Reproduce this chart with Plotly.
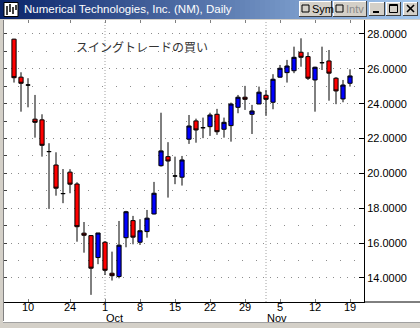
import plotly.graph_objects as go

# ---------------- data ----------------
dates = ["2001-09-06", "2001-09-07", "2001-09-10",
         "2001-09-17", "2001-09-18", "2001-09-19", "2001-09-20", "2001-09-21",
         "2001-09-24", "2001-09-25", "2001-09-26", "2001-09-27", "2001-09-28",
         "2001-10-01", "2001-10-02", "2001-10-03", "2001-10-04", "2001-10-05",
         "2001-10-08", "2001-10-09", "2001-10-10", "2001-10-11", "2001-10-12",
         "2001-10-15", "2001-10-16", "2001-10-17", "2001-10-18", "2001-10-19",
         "2001-10-22", "2001-10-23", "2001-10-24", "2001-10-25", "2001-10-26",
         "2001-10-29", "2001-10-30", "2001-10-31", "2001-11-01", "2001-11-02",
         "2001-11-05", "2001-11-06", "2001-11-07", "2001-11-08", "2001-11-09",
         "2001-11-12", "2001-11-13", "2001-11-14", "2001-11-15", "2001-11-16",
         "2001-11-19"]

opens = [27.70, 25.52, 25.07, 23.11, 23.07, 21.25, 20.48, 18.84, 20.07, 19.39,
         16.57, 16.43, 15.17, 16.05, 14.27, 14.08, 16.31, 17.29, 16.05, 16.66,
         17.67, 20.44, 20.96, 19.85, 19.78, 21.96, 23.01, 22.62, 22.68, 23.39,
         22.53, 22.74, 23.79, 24.37, 23.39, 23.98, 24.48, 24.08, 25.52, 25.78,
         25.89, 26.95, 26.70, 25.36, 26.35, 26.45, 25.46, 24.27, 25.17]
highs = [27.72, 25.80, 25.46, 24.50, 23.39, 21.73, 21.21, 20.25, 20.24, 19.49,
         17.21, 16.46, 16.58, 16.11, 15.51, 17.27, 17.85, 17.56, 17.37, 17.90,
         19.51, 23.48, 21.79, 20.96, 21.00, 23.35, 23.14, 23.20, 23.48, 23.70,
         23.20, 24.06, 24.50, 25.02, 23.93, 24.98, 24.79, 25.69, 26.22, 26.51,
         27.27, 27.75, 26.95, 26.12, 27.27, 27.08, 25.52, 25.36, 25.97]
lows = [25.21, 23.54, 23.79, 22.05, 20.96, 17.96, 18.72, 18.29, 18.86, 16.08,
        15.45, 13.03, 14.79, 14.17, 13.85, 13.98, 15.76, 15.93, 15.89, 16.31,
        17.65, 20.39, 18.61, 19.38, 19.30, 21.69, 21.76, 22.02, 22.15, 22.21,
        22.05, 21.82, 23.45, 23.64, 22.26, 23.98, 23.31, 23.68, 25.50, 25.21,
        25.75, 26.12, 25.36, 23.54, 25.93, 24.17, 23.97, 24.08, 24.98]
closes = [25.49, 25.17, 25.07, 22.93, 21.61, 21.25, 19.15, 18.84, 19.38, 16.94,
          16.45, 14.56, 16.58, 14.44, 14.13, 15.88, 17.80, 16.34, 16.71, 17.43,
          18.86, 21.29, 20.71, 19.85, 20.77, 22.72, 22.49, 22.62, 23.35, 22.39,
          22.93, 23.98, 24.37, 24.25, 23.58, 24.66, 24.25, 25.40, 26.03, 26.16,
          26.66, 26.66, 25.46, 26.09, 26.35, 25.75, 24.73, 25.07, 25.59]

tick_dates = ["2001-09-10", "2001-09-24", "2001-10-01", "2001-10-08", "2001-10-15",
              "2001-10-22", "2001-10-29", "2001-11-05", "2001-11-12", "2001-11-19"]
tick_labels = ["10", "24", "1", "8", "15", "22", "29", "5", "12", "19"]
month_dates = ["2001-10-01", "2001-11-01"]
month_labels = ["Oct", "Nov"]

price_major = [14, 16, 18, 20, 22, 24, 26, 28]
price_minor = [15, 17, 19, 21, 23, 25, 27]
price_labels = [f"{v:.4f}" for v in price_major]

title_text = "Numerical Technologies, Inc. (NM), Daily"
note_text = "スイングトレードの買い"

# ---------------- geometry helpers ----------------
W, H = 420, 328
def px(x):
    return x / W
def py(y):
    return 1 - y / H

XL, XR, YT, YB = 4, 364, 20, 302
x_range = [-1.43, 50.0]
y_range = [12.62, 28.80]
FONT = "Liberation Sans, Arial, sans-serif"

fig = go.Figure()

fig.add_trace(go.Candlestick(
    x=dates, open=opens, high=highs, low=lows, close=closes,
    increasing=dict(fillcolor="#0000FF", line=dict(color="black", width=1)),
    decreasing=dict(fillcolor="#FF0000", line=dict(color="black", width=1)),
    whiskerwidth=0, showlegend=False, hoverinfo="skip",
))
# invisible helper so the overlay axes (top / left tick rulers) get drawn
fig.add_trace(go.Scatter(
    x=dates, y=closes, xaxis="x2", yaxis="y2", mode="markers",
    marker=dict(opacity=0, size=1), hoverinfo="skip", showlegend=False,
))

shapes = []
# title bar gradient
n = 84
c0 = (0x0A, 0x24, 0x6A)
c1 = (0xA6, 0xCA, 0xF0)
for i in range(n):
    t = i / (n - 1)
    col = "rgb(%d,%d,%d)" % tuple(round(a + (b - a) * t) for a, b in zip(c0, c1))
    shapes.append(dict(type="rect", xref="paper", yref="paper",
                       x0=px(i * W / n), x1=px((i + 1) * W / n + 0.6),
                       y0=py(0), y1=py(19), fillcolor=col, line=dict(width=0), layer="below"))
# grey strip under title bar
shapes.append(dict(type="rect", xref="paper", yref="paper", x0=0, x1=1, y0=py(19), y1=py(20),
                   fillcolor="#D4D0C8", line=dict(width=0)))
# left frame
shapes.append(dict(type="rect", xref="paper", yref="paper", x0=0, x1=px(3), y0=py(19), y1=0,
                   fillcolor="#D4D0C8", line=dict(width=0)))
shapes.append(dict(type="line", xref="paper", yref="paper", x0=px(3.5), x1=px(3.5), y0=py(20), y1=py(321),
                   line=dict(color="#808080", width=1)))
# bottom frame
shapes.append(dict(type="rect", xref="paper", yref="paper", x0=0, x1=1, y0=0, y1=py(322),
                   fillcolor="#D4D0C8", line=dict(width=0)))
shapes.append(dict(type="line", xref="paper", yref="paper", x0=px(3), x1=1, y0=py(322.5), y1=py(322.5),
                   line=dict(color="#A0A0A0", width=1)))
# bottom axis line extends under the price labels
shapes.append(dict(type="line", xref="paper", yref="paper", x0=px(XR), x1=1, y0=py(YB), y1=py(YB),
                   line=dict(color="black", width=1)))
# month separators
for d in month_dates:
    k = dates.index(d)
    shapes.append(dict(type="line", xref="x", yref="y domain", x0=k, x1=k, y0=0, y1=1,
                       line=dict(color="#A0A0A0", width=1, dash="1px,2px"), layer="below"))

# title-bar icon
shapes.append(dict(type="rect", xref="paper", yref="paper", x0=px(4), x1=px(18), y0=py(2.5), y1=py(16.5),
                   fillcolor="white", line=dict(color="black", width=1)))
for xx, a, b in [(7, 6, 15), (10, 4, 12), (13, 7, 14), (16, 5, 10)]:
    shapes.append(dict(type="line", xref="paper", yref="paper", x0=px(xx), x1=px(xx), y0=py(a), y1=py(b),
                       line=dict(color="black", width=1.5)))

def button(x0, x1, y0=2, y1=16):
    shapes.append(dict(type="rect", xref="paper", yref="paper", x0=px(x0), x1=px(x1), y0=py(y0), y1=py(y1),
                       fillcolor="#D4D0C8", line=dict(width=0)))
    shapes.append(dict(type="line", xref="paper", yref="paper", x0=px(x0), x1=px(x1), y0=py(y0 + 0.5), y1=py(y0 + 0.5),
                       line=dict(color="white", width=1)))
    shapes.append(dict(type="line", xref="paper", yref="paper", x0=px(x0 + 0.5), x1=px(x0 + 0.5), y0=py(y0), y1=py(y1),
                       line=dict(color="white", width=1)))
    shapes.append(dict(type="line", xref="paper", yref="paper", x0=px(x0), x1=px(x1), y0=py(y1 - 0.5), y1=py(y1 - 0.5),
                       line=dict(color="#404040", width=1)))
    shapes.append(dict(type="line", xref="paper", yref="paper", x0=px(x1 - 0.5), x1=px(x1 - 0.5), y0=py(y0), y1=py(y1),
                       line=dict(color="#404040", width=1)))

button(299, 332, 1, 17)
button(333, 367, 1, 17)
button(369, 385)
button(386, 401)
button(403, 418)
# checkbox squares in Sym / Intv buttons
for bx in (302, 336):
    shapes.append(dict(type="rect", xref="paper", yref="paper", x0=px(bx), x1=px(bx + 7), y0=py(5), y1=py(12),
                       fillcolor="#D4D0C8", line=dict(color="black", width=1)))
# minimize glyph
shapes.append(dict(type="rect", xref="paper", yref="paper", x0=px(373), x1=px(379), y0=py(11), y1=py(13),
                   fillcolor="black", line=dict(width=0)))
# maximize glyph
shapes.append(dict(type="rect", xref="paper", yref="paper", x0=px(389.5), x1=px(397.5), y0=py(4.5), y1=py(12.5),
                   fillcolor="rgba(0,0,0,0)", line=dict(color="black", width=1)))
shapes.append(dict(type="line", xref="paper", yref="paper", x0=px(389.5), x1=px(397.5), y0=py(5.5), y1=py(5.5),
                   line=dict(color="black", width=1)))
# close glyph
shapes.append(dict(type="line", xref="paper", yref="paper", x0=px(407), x1=px(414), y0=py(5), y1=py(12),
                   line=dict(color="black", width=1.6)))
shapes.append(dict(type="line", xref="paper", yref="paper", x0=px(407), x1=px(414), y0=py(12), y1=py(5),
                   line=dict(color="black", width=1.6)))

annotations = [
    dict(text=title_text, xref="paper", yref="paper", x=px(22), y=py(9.5), xanchor="left", yanchor="middle",
         showarrow=False, font=dict(family=FONT, size=11.5, color="white")),
    dict(text="Sym", xref="paper", yref="paper", x=px(310), y=py(9), xanchor="left", yanchor="middle",
         showarrow=False, font=dict(family=FONT, size=11, color="black")),
    dict(text="Intv", xref="paper", yref="paper", x=px(344), y=py(9), xanchor="left", yanchor="middle",
         showarrow=False, font=dict(family=FONT, size=11, color="#8A8A8A")),
    dict(text=note_text, xref="paper", yref="paper", x=px(74), y=py(46), xanchor="left", yanchor="middle",
         showarrow=False, font=dict(family="Noto Sans CJK JP", size=12, color="#333333")),
]
for d, lab in zip(month_dates, month_labels):
    annotations.append(dict(text=lab, xref="x", yref="paper", x=dates.index(d) - 0.1, y=py(317.5),
                            xanchor="left", yanchor="middle", showarrow=False,
                            font=dict(family=FONT, size=11, color="black")))

fig.update_layout(
    width=W, height=H,
    margin=dict(l=0, r=0, t=0, b=0),
    paper_bgcolor="white", plot_bgcolor="white",
    boxgap=0.4, boxgroupgap=0,
    showlegend=False,
    shapes=shapes, annotations=annotations,
    xaxis=dict(
        type="category", domain=[px(XL), px(XR)], range=x_range,
        tickmode="array", tickvals=tick_dates, ticktext=tick_labels,
        ticks="inside", ticklen=3, tickcolor="#808080",
        ticklabelstandoff=-5,
        showline=True, linecolor="black", linewidth=1,
        showgrid=False, zeroline=False, rangeslider=dict(visible=False),
        tickfont=dict(family=FONT, size=11, color="black"), anchor="y",
    ),
    yaxis=dict(
        domain=[py(YB), py(YT)], range=y_range, side="right", anchor="x",
        tickmode="array", tickvals=price_major, ticktext=price_labels,
        ticks="inside", ticklen=5, tickcolor="black",
        showline=True, linecolor="black", linewidth=1,
        showgrid=True, gridcolor="#8C8C8C", griddash="1px,6px", gridwidth=1,
        minor=dict(tickmode="array", tickvals=price_minor, showgrid=True,
                   gridcolor="#8C8C8C", griddash="1px,13px", ticks=""),
        zeroline=False,
        tickfont=dict(family=FONT, size=11, color="black"),
    ),
    xaxis2=dict(
        type="category", overlaying="x", side="top", anchor="y", range=x_range,
        tickmode="array", tickvals=tick_dates, ticks="inside", ticklen=3, tickcolor="#808080",
        showticklabels=False, showline=True, linecolor="#808080", showgrid=False, zeroline=False,
    ),
    yaxis2=dict(
        overlaying="y", side="left", anchor="x", range=y_range,
        tickmode="array", tickvals=price_major + price_minor, ticks="inside", ticklen=3,
        tickcolor="#404040", showticklabels=False, showline=False, showgrid=False, zeroline=False,
    ),
)

fig.write_html("out.html")
